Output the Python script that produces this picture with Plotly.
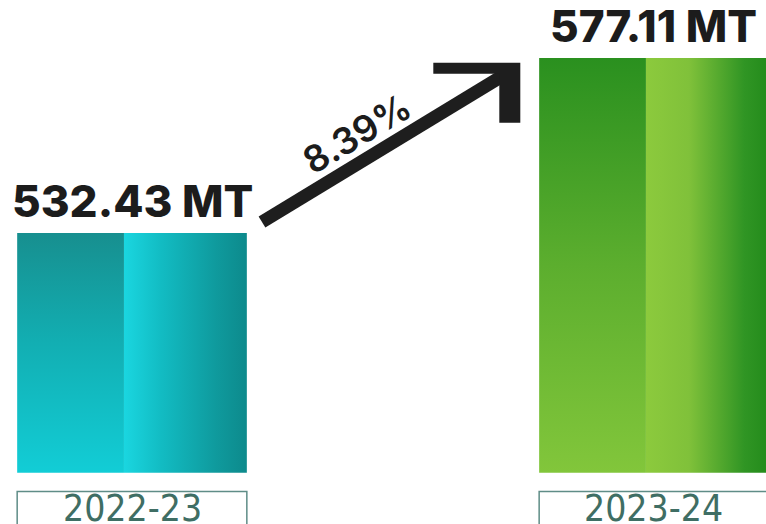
import plotly.graph_objects as go

# ---- data ----
categories = ["2022-23", "2023-24"]
values = [532.43, 577.11]
unit = "MT"

# ---- styling constants ----
BASE = 471.2          # value at the bars' baseline (axis floor)
BAR_W = 0.44          # bar width in category units
SPLIT = 0.465         # fraction where the shaded split sits
bar_grads = [  # (vertical colorscale for left part, horizontal for right part)
    ([[0, "#12cdd6"], [0.55, "#12aeb2"], [1, "#178f8f"]],
     [[0, "#1ad6e0"], [0.3, "#12bcc3"], [0.75, "#0f9a9d"], [1, "#0d8a8c"]]),
    ([[0, "#82c63b"], [0.5, "#5cae2e"], [1, "#2a901f"]],
     [[0, "#8cca3d"], [0.35, "#80c13a"], [0.8, "#309524"], [1, "#238b1b"]]),
]
INK = "#1e1e1e"

growth = (values[1] - values[0]) / values[0] * 100

fig = go.Figure()

for i, (cat, v) in enumerate(zip(categories, values)):
    x0 = i - BAR_W / 2
    xs = x0 + BAR_W * SPLIT
    x1 = i + BAR_W / 2
    vscale, hscale = bar_grads[i]
    # left part: vertical gradient
    fig.add_trace(go.Scatter(
        x=[x0, xs, xs, x0, x0], y=[BASE, BASE, v, v, BASE],
        mode="none", fill="toself",
        fillgradient=dict(type="vertical", colorscale=vscale),
        hoverinfo="skip", showlegend=False))
    # right part: horizontal gradient
    fig.add_trace(go.Scatter(
        x=[xs, x1, x1, xs, xs], y=[BASE, BASE, v, v, BASE],
        mode="none", fill="toself",
        fillgradient=dict(type="horizontal", colorscale=hscale),
        hoverinfo="skip", showlegend=False))
    # value label
    fig.add_annotation(
        x=i, y=v, xref="x", yref="y", text=f"{v:.2f} {unit}",
        showarrow=False, yanchor="bottom", yshift=3,
        font=dict(family="Inter", size=44, color="#1c1c1c", weight=800))
    # category label + box
    fig.add_shape(type="rect", xref="x", yref="paper",
                  x0=x0, x1=x1, y0=-0.05, y1=0.062,
                  line=dict(color="#5f8d87", width=1.5), fillcolor="white")
    fig.add_annotation(
        x=i, y=0.03, xref="x", yref="paper", text=cat, showarrow=False,
        yanchor="middle",
        font=dict(family="DejaVu Sans Condensed, Liberation Sans Narrow, Roboto",
                  size=37, color="#3f6e64"))

# growth arrow from left bar to right bar
ax0, ay0 = 0 + 0.249, values[0] + 2.8
ax1, ay1 = 1 - 0.258, values[1] - 2.0
fig.add_shape(type="line", xref="x", yref="y",
              x0=ax0, y0=ay0, x1=ax1 - 0.025, y1=ay1 - 2.0,
              line=dict(color=INK, width=13))
fig.add_shape(type="path", xref="x", yref="y",
              xsizemode="pixel", ysizemode="pixel", xanchor=ax1, yanchor=ay1,
              path="M -86 3 L 1 3 L 1 -57 L -20 -57 L -20 -8 L -86 -8 Z",
              line=dict(width=0), fillcolor=INK)
fig.add_annotation(
    x=(ax0 + ax1) / 2, y=(ay0 + ay1) / 2, xref="x", yref="y",
    text=f"{growth:.2f}%", showarrow=False, textangle=-31,
    xshift=-34, yshift=10,
    font=dict(family="Inter", size=37, color="#1c1c1c", weight=600))

fig.update_xaxes(range=[-0.2529, 1.2146], visible=False, fixedrange=True)
fig.update_yaxes(range=[458.14, 591.92], visible=False, fixedrange=True)
fig.update_layout(
    width=766, height=524, margin=dict(l=0, r=0, t=0, b=0),
    paper_bgcolor="white", plot_bgcolor="white", showlegend=False)

fig.write_html("out.html", config={"displayModeBar": False},
               post_script="document.body.style.margin='0';")
